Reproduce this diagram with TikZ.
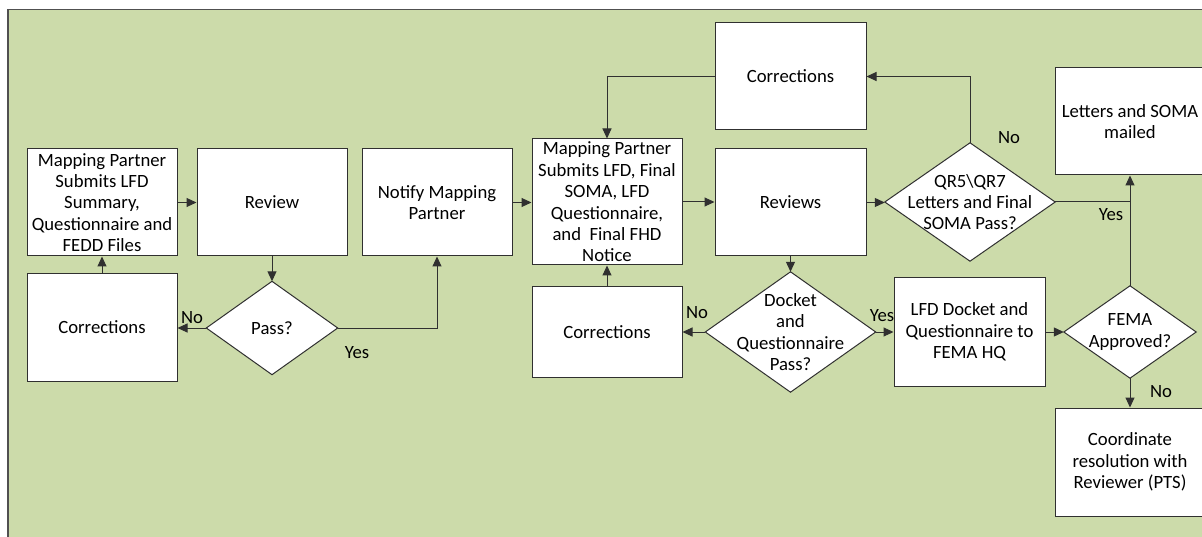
\documentclass[tikz,border=0pt]{standalone}
\usepackage{fontspec}
\setmainfont{Carlito}
\usetikzlibrary{arrows.meta}
\pgfdeclarelayer{bg}
\pgfdeclarelayer{mid}
\pgfsetlayers{bg,mid,main}
\definecolor{frameg}{HTML}{CCDBAA}
\definecolor{framel}{HTML}{505050}
\definecolor{lnc}{HTML}{303030}
\begin{document}
\begin{tikzpicture}[x=1pt,y=-1pt,
  txt/.style={font=\fontsize{18.7}{21.4}\selectfont},
  box/.style={txt,draw=lnc,fill=white,line width=1pt,inner sep=0pt,align=center},
  dtext/.style={txt,draw=none,inner sep=0pt,align=center},
  dshape/.style={draw=lnc,fill=white,line width=1pt},
  conn/.style={draw=lnc,line width=1pt},
  arr/.style={conn,-{Triangle[length=10pt,width=9pt]}},
  lbl/.style={txt,inner sep=0pt}]
\useasboundingbox (0,0) rectangle (1202,537);
\begin{pgfonlayer}{bg}
  \clip (0,0) rectangle (1202,537);
  \draw[fill=frameg,draw=framel,line width=1.3pt] (8,9.5) rectangle (1230,560);
\end{pgfonlayer}

% boxes
\node[box,minimum width=150,minimum height=107] (b1) at (102,202.5)
  {Mapping Partner\\Submits LFD\\Summary,\\Questionnaire and\\FEDD Files};
\node[box,minimum width=150,minimum height=107] (rev) at (272,202.5) {Review};
\node[box,minimum width=150,minimum height=107] (notify) at (437,202.5) {Notify Mapping\\Partner};
\node[box,minimum width=150,minimum height=126] (mp2) at (607,202)
  {Mapping Partner\\Submits LFD, Final\\SOMA, LFD\\Questionnaire,\\and\ \ Final FHD\\Notice};
\node[box,minimum width=151,minimum height=107] (corrT) at (790.5,76.5) {Corrections};
\node[box,minimum width=151,minimum height=107] (reviews) at (790.5,202.5) {Reviews};
\node[box,minimum width=150,minimum height=107] (letters) at (1130,121.5) {Letters and SOMA\\mailed};
\node[box,minimum width=150,minimum height=107] (corrL) at (102,327.5) {Corrections};
\node[box,minimum width=150,minimum height=90] (corrM) at (607,332) {Corrections};
\node[box,minimum width=151,minimum height=108] (lfd) at (969.5,332) {LFD Docket and\\Questionnaire to\\FEMA HQ};
\node[box,minimum width=150,minimum height=108] (coord) at (1130,462) {Coordinate\\resolution with\\Reviewer (PTS)};

% diamonds (text nodes; outlines on the mid layer)
\node[dtext,minimum width=131,minimum height=93] (pass) at (272,328) {Pass?};
\node[dtext,minimum width=170,minimum height=118] (qr) at (970,202) {QR5\textbackslash QR7\\Letters and Final\\SOMA Pass?};
\node[dtext,minimum width=170,minimum height=120] (dock) at (790.5,332) {Docket\\and\\Questionnaire\\Pass?};
\node[dtext,minimum width=132,minimum height=92] (fema) at (1130,332) {FEMA\\Approved?};
\begin{pgfonlayer}{mid}
  \foreach \d in {pass,qr,dock,fema}
    \draw[dshape] (\d.north) -- (\d.east) -- (\d.south) -- (\d.west) -- cycle;
  \node[lbl] (l1) at (192,318) {No};
  \node[lbl] (l2) at (357,353) {Yes};
  \node[lbl] (l3) at (697,313) {No};
  \node[lbl] (l4) at (882,316) {Yes};
  \node[lbl] (l5) at (1009,138) {No};
  \node[lbl] (l6) at (1111,215) {Yes};
  \node[lbl] (l7) at (1161,392) {No};
\end{pgfonlayer}

% connectors
\draw[arr] (b1.east) -- (b1.east -| rev.west);
\draw[arr] (rev.south) -- (pass.north);
\draw[arr] (pass.west) -- (pass.west -| corrL.east);
\draw[arr] (corrL.north) -- (b1.south);
\draw[arr] (pass.east) -| (notify.south);
\draw[arr] (notify.east) -- (notify.east -| mp2.west);
\draw[arr] (mp2.east) -- (mp2.east -| reviews.west);
\draw[arr] (reviews.south) -- (dock.north);
\draw[arr] (dock.west) -- (dock.west -| corrM.east);
\draw[arr] (corrM.north) -- (mp2.south);
\draw[arr] (dock.east) -- (dock.east -| lfd.west);
\draw[arr] (lfd.east) -- (lfd.east -| fema.west);
\draw[arr] (fema.south) -- (coord.north);
\draw[arr] (fema.north) -- (letters.south);
\draw[arr] (reviews.east) -- (reviews.east -| qr.west);
\coordinate (j) at (qr.east -| letters.south);
\draw[conn] (qr.east) -- (j);
\draw[arr] (qr.north) |- (corrT.east);
\draw[arr] (corrT.west) -| (mp2.north);
\end{tikzpicture}
\end{document}
